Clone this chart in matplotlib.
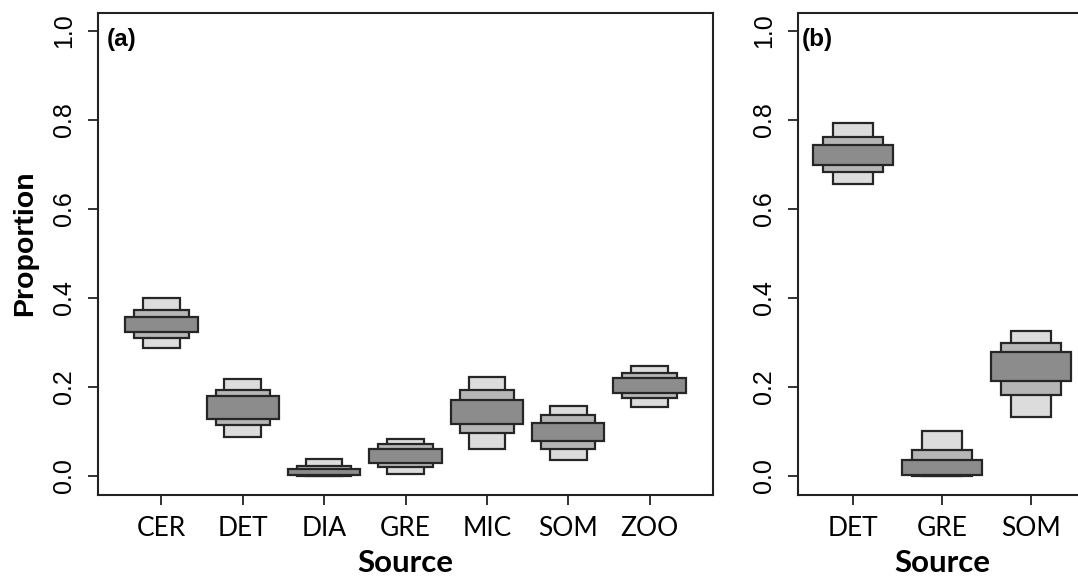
import matplotlib

matplotlib.use("Agg")
import matplotlib.pyplot as plt
from matplotlib import font_manager


# panel (a): all seven sources
SOURCES_A = ["CER", "DET", "DIA", "GRE", "MIC", "SOM", "ZOO"]
LO95_A = [0.288, 0.087, 0.000, 0.005, 0.061, 0.036, 0.156]
HI95_A = [0.399, 0.217, 0.038, 0.083, 0.222, 0.157, 0.246]
LO75_A = [0.309, 0.115, 0.000, 0.020, 0.096, 0.061, 0.176]
HI75_A = [0.372, 0.193, 0.022, 0.072, 0.193, 0.137, 0.231]
LO50_A = [0.324, 0.129, 0.002, 0.030, 0.116, 0.079, 0.187]
HI50_A = [0.358, 0.180, 0.015, 0.060, 0.170, 0.120, 0.220]

# panel (b): three sources
SOURCES_B = ["DET", "GRE", "SOM"]
LO95_B = [0.656, 0.000, 0.133]
HI95_B = [0.792, 0.102, 0.326]
LO75_B = [0.682, 0.000, 0.183]
HI75_B = [0.762, 0.058, 0.298]
LO50_B = [0.699, 0.003, 0.213]
HI50_B = [0.744, 0.036, 0.278]

Y_TICKS = [0.0, 0.2, 0.4, 0.6, 0.8, 1.0]

# 95% -> 75% -> 50%, drawn back to front
BOX_WIDTHS = [0.45, 0.67, 0.89]
BOX_COLORS = ["#dcdcdc", "#b6b6b6", "#8c8c8c"]
EDGE = "#262626"


def arial_like(size, bold=False):
    # pick the plain Liberation Sans file, not the Narrow one
    weight = "bold" if bold else "normal"
    for entry in font_manager.fontManager.ttflist:
        if entry.name == "Liberation Sans" and entry.style == "normal":
            is_bold = entry.weight in ("bold", 700)
            if is_bold == bold:
                return font_manager.FontProperties(fname=entry.fname, size=size)
    return font_manager.FontProperties(family="DejaVu Sans", weight=weight, size=size)


def draw_boxes(ax, intervals) -> None:
    for (lo, hi), width, color in zip(intervals, BOX_WIDTHS, BOX_COLORS):
        x = range(1, len(lo) + 1)
        heights = [h - l for l, h in zip(lo, hi)]
        ax.bar(x, heights, bottom=lo, width=width, color=color,
               edgecolor=EDGE, linewidth=1.6, zorder=2)


def style_panel(ax, labels, tag, xlim) -> None:
    ax.set_xlim(*xlim)
    ax.set_ylim(-0.0427, 1.04)
    ax.set_xticks(range(1, len(labels) + 1))
    ax.set_xticklabels(labels, fontfamily="Lato", fontsize=19)
    ax.set_yticks(Y_TICKS)
    ax.set_yticklabels([f"{t:.1f}" for t in Y_TICKS], rotation=90,
                       va="center", fontproperties=arial_like(18))
    ax.tick_params(axis="x", length=7, width=1.3, pad=8, color="#222222")
    ax.tick_params(axis="y", length=7, width=1.3, pad=9, color="#222222")
    ax.set_xlabel("Source", fontfamily="Lato", fontweight="bold", fontsize=22.5,
                  labelpad=6)
    for spine in ax.spines.values():
        spine.set_linewidth(1.5)
        spine.set_color("#222222")
    ax.text(0.014, 0.968, tag, transform=ax.transAxes, ha="left", va="top",
            fontproperties=arial_like(17.5, bold=True))


def main() -> None:
    fig = plt.figure(figsize=(10.78, 5.84), dpi=100)
    ax_a = fig.add_axes([98 / 1078, 89 / 584, 615 / 1078, 482 / 584])
    ax_b = fig.add_axes([798 / 1078, 89 / 584, 288 / 1078, 482 / 584])

    draw_boxes(ax_a, [(LO95_A, HI95_A), (LO75_A, HI75_A), (LO50_A, HI50_A)])
    style_panel(ax_a, SOURCES_A, "(a)", (0.22, 7.78))
    ax_a.set_ylabel("Proportion", fontproperties=arial_like(20.5, bold=True))
    ax_a.yaxis.set_label_coords(-0.098, 0.523)

    draw_boxes(ax_b, [(LO95_B, HI95_B), (LO75_B, HI75_B), (LO50_B, HI50_B)])
    style_panel(ax_b, SOURCES_B, "(b)", (0.382, 3.618))

    fig.savefig("out.png", dpi=100)
    plt.close(fig)


if __name__ == "__main__":
    main()
